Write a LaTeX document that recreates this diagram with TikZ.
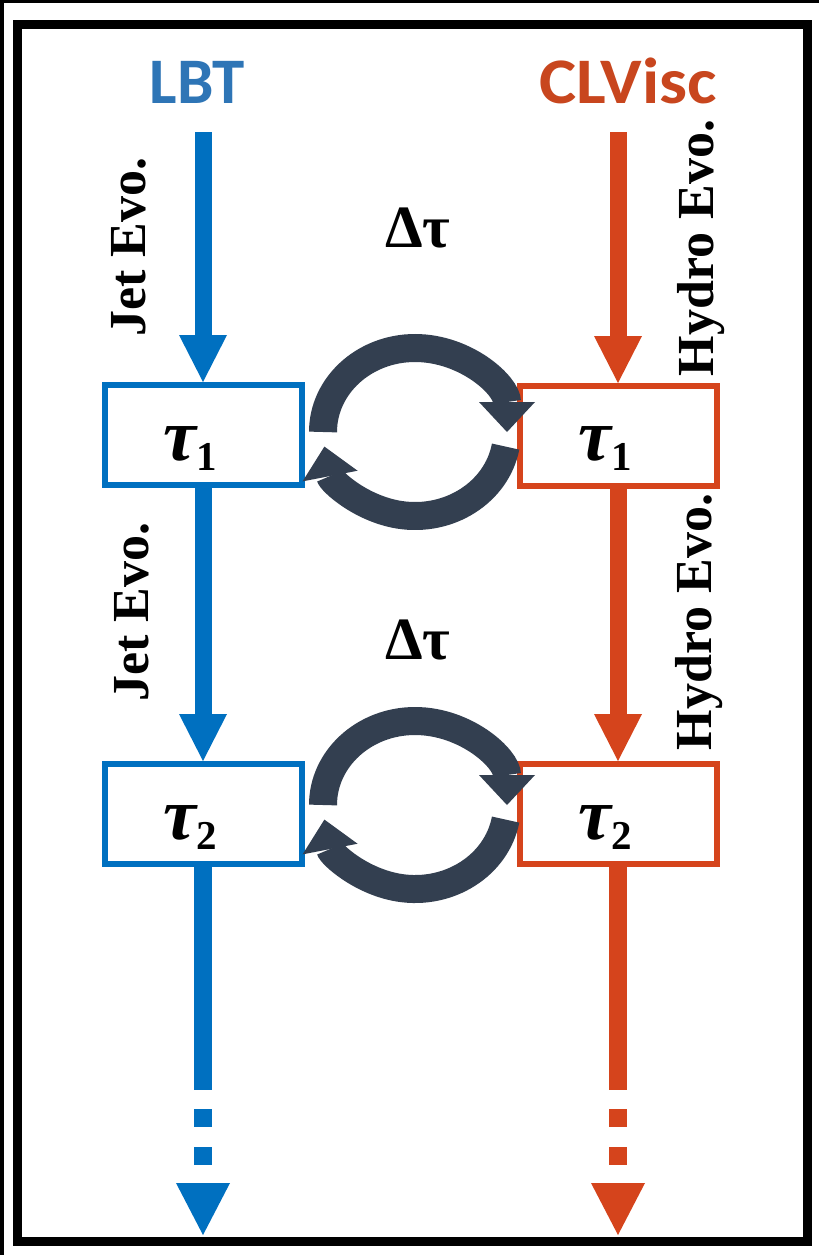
\documentclass[tikz,border=0pt]{standalone}
\usepackage{fontspec}
\setmainfont{Liberation Serif}
\newfontfamily\calib{Carlito}
\usetikzlibrary{arrows.meta}
\definecolor{cblue}{HTML}{0070C0}
\definecolor{cred}{HTML}{D5441C}
\definecolor{lbtblue}{HTML}{2E75B6}
\definecolor{clvred}{HTML}{C8461E}
\definecolor{loopc}{HTML}{333F50}
\begin{document}
\begin{tikzpicture}[x=1pt,y=-1pt,
  boxb/.style={draw=cblue,line width=6pt,minimum width=197pt,minimum height=100pt,fill=white,inner sep=0pt},
  boxr/.style={boxb,draw=cred},
  flowb/.style={draw=cblue,line width=17pt,-{Triangle[length=47pt,width=48pt,line width=0pt]}},
  flowr/.style={flowb,draw=cred},
  lastb/.style={draw=cblue,line width=18pt,dash pattern=on 223pt off 19pt on 18pt off 20pt on 18pt off 19pt,-{Triangle[length=52pt,width=54pt,line width=0pt]}},
  lastr/.style={lastb,draw=cred},
  cyc/.style={draw=loopc,line width=28pt,-{Triangle[length=30pt,width=56pt,line width=0pt]}},
  evo/.style={font=\fontsize{52}{52}\selectfont\bfseries,rotate=90,anchor=base,inner sep=0pt},
  dlt/.style={font=\fontsize{60}{60}\selectfont\bfseries,inner sep=0pt},
  tau/.style={font=\fontsize{74}{74}\selectfont\bfseries\itshape,anchor=base west,inner sep=0pt},
  title/.style={font=\calib\bfseries\fontsize{65}{65}\selectfont,anchor=base,inner sep=0pt}
]
\useasboundingbox (0,0) rectangle (819,1255);
\fill[white] (0,0) rectangle (819,1255);
\fill[black] (0,0) rectangle (819,3.5);
\fill[black] (0,0) rectangle (4,1255);
\draw[line width=9pt] (17.5,25) rectangle (807,1241);

\node[title,text=lbtblue] (lbt) at (197,103) {LBT};
\node[title,text=clvred] (clv) at (628,103) {\scalebox{1.08}[1]{CLVisc}};

\coordinate (bs) at (203,132);
\coordinate (rs) at (618,132);
\coordinate (be) at (203,1235);
\coordinate (re) at (618,1235);

\node[boxb] (b1) at (203,435) {};
\node[boxb] (b2) at (203,814) {};
\node[boxr] (r1) at (618,436) {};
\node[boxr] (r2) at (618,814) {};

\node[tau] (tb1) at (163,460) {τ\raisebox{-10pt}{\fontsize{41}{41}\selectfont\upshape 1}};
\node[tau] (tb2) at (163,839) {τ\raisebox{-10pt}{\fontsize{41}{41}\selectfont\upshape 2}};
\node[tau] (tr1) at (578,460) {τ\raisebox{-10pt}{\fontsize{41}{41}\selectfont\upshape 1}};
\node[tau] (tr2) at (578,839) {τ\raisebox{-10pt}{\fontsize{41}{41}\selectfont\upshape 2}};

\draw[flowb] (bs) -- (b1.north);
\draw[flowb] (b1.south) -- (b2.north);
\draw[lastb] (b2.south) -- (be);
\draw[flowr] (rs) -- (r1.north);
\draw[flowr] (r1.south) -- (r2.north);
\draw[lastr] (r2.south) -- (re);

\node[evo] (je1) at (145,247) {Jet Evo.};
\node[evo] (je2) at (148,612) {Jet Evo.};
\node[evo] (he1) at (713,248) {Hydro Evo.};
\node[evo] (he2) at (711,622) {Hydro Evo.};

\node[dlt] (d1) at (418,228) {Δτ};
\node[dlt] (d2) at (418,640) {Δτ};

\coordinate (c1) at (415,432);
\coordinate (c2) at (415,805);
\draw[cyc] ([shift={(180:92 and 84)}]c1) arc[start angle=180,end angle=360,x radius=92,y radius=84];
\draw[cyc] ([shift={(10:92 and 84)}]c1) arc[start angle=10,end angle=170,x radius=92,y radius=84];
\draw[cyc] ([shift={(180:92 and 84)}]c2) arc[start angle=180,end angle=360,x radius=92,y radius=84];
\draw[cyc] ([shift={(10:92 and 84)}]c2) arc[start angle=10,end angle=170,x radius=92,y radius=84];
\end{tikzpicture}
\end{document}
